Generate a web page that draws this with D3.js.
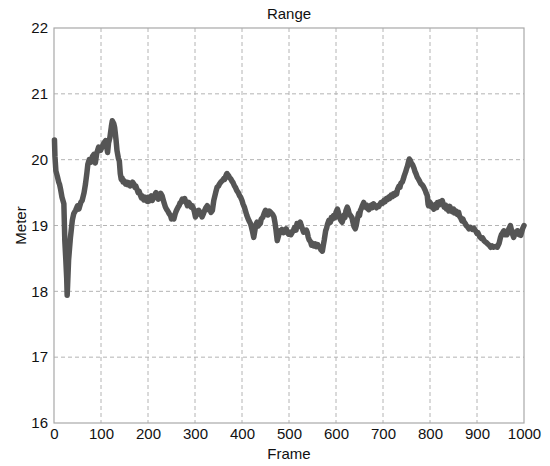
<!DOCTYPE html>
<html><head><meta charset="utf-8">
<script src="https://cdn.jsdelivr.net/npm/d3@7"></script>
<style>
body{margin:0;background:#fff;}
svg{display:block;font-family:"Liberation Sans",Arial,Helvetica,sans-serif;}
</style></head><body>
<svg id="chart" width="550" height="466"></svg>
<script>
const title = "Range";
const xLabel = "Frame";
const yLabel = "Meter";
const xTicks = [0,100,200,300,400,500,600,700,800,900,1000];
const yTicks = [16,17,18,19,20,21,22];
const frames = [
1,2,4,7,10,12,14,17,21,23,25,27,28,29,31,33,35,39,42,46,50,53,57,60,64,67,70,72,75,78,82,85,88,91,95,99,102,106,110,114,116,119,122,124,127,129,132,134,137,139,
141,143,145,147,149,152,154,157,159,162,164,167,170,172,174,177,179,181,184,186,188,191,193,195,198,200,202,204,207,209,212,214,217,219,222,224,227,230,232,234,237,240,242,245,248,250,252,255,258,260,
262,264,266,268,270,273,276,278,280,282,284,287,289,292,294,297,299,301,303,305,308,310,312,315,318,320,323,326,329,331,334,337,340,344,347,350,352,355,358,361,363,366,368,370,372,374,376,379,381,384,
386,389,392,395,397,400,402,405,407,410,412,415,418,420,422,425,428,430,432,434,436,439,441,444,447,450,452,455,458,461,465,468,470,472,475,478,480,482,485,488,490,492,494,496,499,501,504,507,510,512,
515,517,519,521,524,526,528,531,533,535,537,539,541,543,546,548,550,553,556,558,561,563,566,568,571,573,575,578,580,582,585,588,590,593,595,598,600,603,605,607,610,613,615,617,619,621,624,626,628,631,
634,636,638,641,643,645,648,650,652,654,656,659,661,663,665,667,670,672,675,677,680,683,686,688,691,694,696,699,702,704,707,709,712,714,717,720,722,725,727,729,731,734,736,738,741,743,745,748,750,752,
754,756,758,760,763,766,768,770,773,775,778,780,783,786,788,790,792,794,796,797,799,801,803,805,808,810,812,814,816,819,821,823,826,828,830,833,835,837,840,842,845,847,850,852,855,858,861,863,865,868,
870,872,875,877,880,883,886,890,893,897,900,902,905,907,910,912,915,918,920,923,926,929,932,935,939,943,945,947,950,952,954,957,960,962,964,966,968,971,973,975,978,980,982,984,986,988,990,993,995,997,1000];
const range = [
20.30,20.05,19.83,19.75,19.66,19.62,19.55,19.43,19.33,18.77,18.50,18.20,17.94,18.10,18.47,18.65,18.82,19.08,19.18,19.23,19.30,19.25,19.35,19.38,19.50,19.63,19.80,19.93,20.00,19.96,20.05,20.08,19.95,20.10,20.19,20.14,20.19,20.25,20.29,20.11,20.25,20.34,20.50,20.59,20.55,20.49,20.30,20.14,20.02,19.98,
19.79,19.70,19.72,19.66,19.68,19.63,19.66,19.62,19.65,19.60,19.62,19.66,19.63,19.58,19.60,19.54,19.50,19.52,19.46,19.42,19.45,19.39,19.43,19.40,19.37,19.43,19.37,19.41,19.45,19.38,19.42,19.46,19.50,19.47,19.40,19.43,19.49,19.45,19.40,19.35,19.28,19.24,19.22,19.18,19.15,19.10,19.13,19.10,19.18,19.22,
19.25,19.28,19.30,19.34,19.35,19.40,19.38,19.41,19.36,19.34,19.30,19.35,19.31,19.28,19.30,19.25,19.20,19.13,19.17,19.22,19.23,19.17,19.20,19.13,19.18,19.22,19.27,19.30,19.24,19.26,19.20,19.23,19.38,19.50,19.58,19.60,19.63,19.66,19.68,19.71,19.70,19.76,19.79,19.77,19.75,19.72,19.71,19.67,19.65,19.60,
19.58,19.53,19.50,19.45,19.43,19.38,19.33,19.28,19.23,19.16,19.12,19.07,19.03,18.98,18.92,18.82,18.95,19.02,19.05,18.99,19.01,19.03,19.10,19.12,19.18,19.23,19.20,19.16,19.22,19.20,19.17,19.13,19.05,18.95,18.77,18.85,18.92,18.90,18.94,18.89,18.93,18.91,18.95,18.90,18.87,18.90,18.86,18.90,18.94,18.97,
18.93,19.03,18.98,19.02,19.05,19.00,18.96,18.90,18.93,18.90,18.93,18.89,18.82,18.78,18.75,18.70,18.73,18.69,18.72,18.68,18.71,18.68,18.66,18.63,18.61,18.70,18.78,18.92,18.96,19.02,19.08,19.05,19.12,19.10,19.15,19.12,19.20,19.25,19.20,19.13,19.08,19.05,19.10,19.16,19.12,19.22,19.28,19.24,19.18,19.15,
19.12,19.05,18.99,18.95,19.00,19.08,19.18,19.15,19.23,19.26,19.30,19.35,19.30,19.28,19.31,19.26,19.24,19.29,19.31,19.27,19.33,19.30,19.27,19.30,19.29,19.33,19.35,19.34,19.38,19.36,19.41,19.39,19.43,19.41,19.46,19.44,19.48,19.46,19.50,19.48,19.55,19.60,19.58,19.64,19.66,19.70,19.75,19.81,19.86,19.90,
19.96,20.01,19.99,19.95,19.92,19.87,19.82,19.79,19.73,19.71,19.67,19.64,19.62,19.59,19.56,19.53,19.49,19.46,19.32,19.30,19.36,19.34,19.28,19.31,19.25,19.30,19.32,19.27,19.35,19.31,19.36,19.33,19.38,19.33,19.28,19.31,19.25,19.28,19.22,19.29,19.24,19.21,19.25,19.19,19.22,19.17,19.20,19.14,19.12,19.07,
19.10,19.06,19.03,19.00,18.98,18.95,18.97,18.94,18.96,18.92,18.88,18.89,18.84,18.82,18.80,18.81,18.77,18.75,18.74,18.72,18.70,18.67,18.69,18.67,18.68,18.67,18.70,18.73,18.82,18.86,18.88,18.92,18.86,18.89,18.86,18.92,18.95,19.00,18.94,18.88,18.82,18.86,18.90,18.87,18.92,18.89,18.86,18.85,18.90,18.95,19.00];

const svg = d3.select("#chart");
const W = 550, H = 466;
const m = {left:54, right:26, top:28, bottom:43};
const iw = W - m.left - m.right, ih = H - m.top - m.bottom;
const x = d3.scaleLinear().domain([0,1000]).range([0, iw]);
const y = d3.scaleLinear().domain([16,22]).range([ih, 0]);
const g = svg.append("g").attr("transform", `translate(${m.left},${m.top})`);
const FONT = "Liberation Sans, Arial, sans-serif";

// grid
g.append("g").selectAll("line").data(xTicks.slice(1,-1)).join("line")
  .attr("x1", d=>x(d)).attr("x2", d=>x(d)).attr("y1",0).attr("y2",ih)
  .attr("stroke","#b4b4b4").attr("stroke-width",1).attr("stroke-dasharray","4,3");
g.append("g").selectAll("line").data(yTicks.slice(1,-1)).join("line")
  .attr("y1", d=>y(d)).attr("y2", d=>y(d)).attr("x1",0).attr("x2",iw)
  .attr("stroke","#b4b4b4").attr("stroke-width",1).attr("stroke-dasharray","4,3");

// axes
const xa = g.append("g").attr("transform",`translate(0,${ih})`)
  .call(d3.axisBottom(x).tickValues(xTicks).tickSize(0).tickPadding(5).tickFormat(d3.format("d")));
const ya = g.append("g")
  .call(d3.axisLeft(y).tickValues(yTicks).tickSize(0).tickPadding(6).tickFormat(d3.format("d")));
[xa, ya].forEach(a => {
  a.select(".domain").remove();
  a.selectAll("text").attr("font-size", 15).attr("fill","#111").attr("font-family",FONT);
});
ya.selectAll("text").attr("dy","0.32em");

// box
g.append("rect").attr("x",0).attr("y",0).attr("width",iw).attr("height",ih)
  .attr("fill","none").attr("stroke","#a8a8a8").attr("stroke-width",1.2);

// line
const pts = frames.map((f,i)=>[f, range[i]]);
g.append("path").datum(pts)
  .attr("fill","none").attr("stroke","#555555").attr("stroke-width",5.5)
  .attr("stroke-linejoin","round").attr("stroke-linecap","round")
  .attr("d", d3.line().x(d=>x(d[0])).y(d=>y(d[1])));

// labels
svg.append("text").attr("x", m.left + iw/2).attr("y", 19).attr("text-anchor","middle")
  .attr("font-size",15).attr("fill","#111").attr("font-family",FONT).text(title);
svg.append("text").attr("x", m.left + iw/2).attr("y", 459).attr("text-anchor","middle")
  .attr("font-size",15).attr("fill","#111").attr("font-family",FONT).text(xLabel);
svg.append("text").attr("transform",`translate(26,${m.top+ih/2}) rotate(-90)`).attr("text-anchor","middle")
  .attr("font-size",15).attr("fill","#111").attr("font-family",FONT).text(yLabel);
</script>
</body></html>
